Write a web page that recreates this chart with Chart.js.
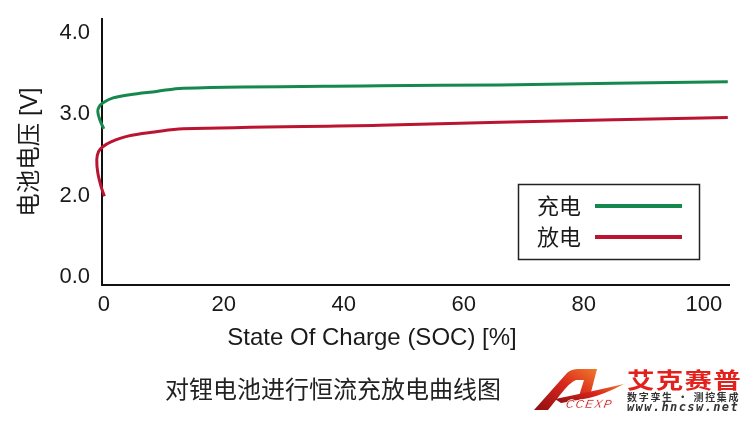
<!DOCTYPE html>
<html>
<head>
<meta charset="utf-8">
<script src="https://cdn.jsdelivr.net/npm/chart.js@4"></script>
<style>
  html, body { margin: 0; padding: 0; background: #fff; }
  #wrap { position: relative; width: 752px; height: 422px; overflow: hidden; }
  #chart { position: absolute; left: 0; top: 0; }
  #caption {
    position: absolute; left: 165px; top: 373px;
    font: 24px "Noto Sans CJK SC", sans-serif; color: #222; line-height: 30px;
    white-space: nowrap;
  }
  #logo { position: absolute; left: 533px; top: 362px; }
  .brand { position: absolute; left: 627px; white-space: nowrap; }
  #brand1 {
    top: 365px; font: bold 22px "Noto Sans CJK SC", sans-serif; color: #e3201b;
    letter-spacing: 1px; line-height: 26px; transform: scaleX(1.25); transform-origin: left top;
  }
  #brand2 { top: 391px; font: bold 10px "Noto Sans CJK SC", sans-serif; color: #333; letter-spacing: 1.7px; line-height: 12px; }
  #brand3 { top: 401px; font: bold italic 12px "DejaVu Sans Mono", monospace; color: #333; letter-spacing: 1.4px; line-height: 12px; }
</style>
</head>
<body>
<div id="wrap">
  <canvas id="chart" width="752" height="422"></canvas>
  <div id="caption">对锂电池进行恒流充放电曲线图</div>
  <svg id="logo" width="92" height="52" viewBox="0 0 92 52">
    <defs>
      <linearGradient id="lg" x1="0" y1="1" x2="1" y2="0">
        <stop offset="0" stop-color="#8e0f12"/>
        <stop offset="0.55" stop-color="#d8261c"/>
        <stop offset="1" stop-color="#f07a2a"/>
      </linearGradient>
    </defs>
    <path d="M1 48 L34 11 Q38 7 46 7 L64 7 L57 34 L46 34 L51 18 L43 18 Q37 20 27 33 L15 48 Z" fill="url(#lg)"/>
    <path d="M22 37 Q52 31 91 22 Q72 32 56 36 L28 41 Z" fill="url(#lg)"/>
    <text x="40" y="46" font-family="Liberation Sans" font-style="italic" font-weight="bold" font-size="12"
          fill="#c81e1e" stroke="#fff" stroke-width="0.6" transform="skewX(-10)" textLength="46">CCEXP</text>
  </svg>
  <div id="brand1" class="brand">艾克赛普</div>
  <div id="brand2" class="brand">数字孪生 · 测控集成</div>
  <div id="brand3" class="brand">www.hncsw.net</div>
</div>
<script>
// charge curve (SOC %, voltage V)
const socCharge  = [0, -0.67, -1.0, -0.78, -0.12, 1.55, 4.33, 8.78, 13.2, 46, 66, 104];
const voltCharge = [2.82, 2.93, 3.03, 3.09, 3.14, 3.20, 3.24, 3.28, 3.32, 3.35, 3.36, 3.40];

// discharge curve
const socDischarge  = [0.1, -0.45, -1.0, -1.17, -0.88, -0.17, 1.2, 4.0, 8.45, 13.2, 46, 66, 104];
const voltDischarge = [1.99, 2.11, 2.28, 2.44, 2.54, 2.60, 2.66, 2.73, 2.78, 2.82, 2.865, 2.90, 2.96];

// the y axis is broken: "0.0" sits one step below "2.0"
const yTickValues = [1, 2, 3, 4];
const yTickLabels = ['0.0', '2.0', '3.0', '4.0'];
const xTickValues = [0, 20, 40, 60, 80, 100];
const xTitle = 'State Of Charge (SOC) [%]';

const seriesNames = ['充电', '放电'];
const seriesColors = ['#15884e', '#bb1430'];

function toPoints(xs, ys) {
  return xs.map((x, i) => ({ x: x, y: ys[i] }));
}

const latin = '"Liberation Sans", Arial, sans-serif';
const cjk = '"Noto Sans CJK SC", sans-serif';

// legend box (text first, then a line sample) and the off-centre x title
const extras = {
  id: 'extras',
  afterDraw(chart) {
    const ctx = chart.ctx;
    ctx.save();
    ctx.fillStyle = '#1a1a1a';
    ctx.font = '24px ' + latin;
    ctx.textAlign = 'center';
    ctx.textBaseline = 'middle';
    ctx.fillText(xTitle, 372, 338);

    ctx.textAlign = 'left';
    ctx.strokeStyle = '#222';
    ctx.lineWidth = 1.5;
    ctx.strokeRect(518.5, 184.5, 181, 75);
    ctx.font = '22px ' + cjk;
    chart.data.datasets.forEach((ds, i) => {
      const y = 206 + i * 31;
      ctx.fillStyle = '#1a1a1a';
      ctx.fillText(ds.label, 537, y);
      ctx.strokeStyle = ds.borderColor;
      ctx.lineWidth = 4;
      ctx.beginPath();
      ctx.moveTo(595, y);
      ctx.lineTo(682, y);
      ctx.stroke();
    });
    ctx.restore();
  }
};

new Chart(document.getElementById('chart').getContext('2d'), {
  type: 'scatter',
  data: {
    datasets: [
      {
        label: seriesNames[0],
        data: toPoints(socCharge, voltCharge),
        borderColor: seriesColors[0],
        showLine: true,
        borderWidth: 3,
        pointRadius: 0,
        tension: 0.35,
        clip: false
      },
      {
        label: seriesNames[1],
        data: toPoints(socDischarge, voltDischarge),
        borderColor: seriesColors[1],
        showLine: true,
        borderWidth: 3,
        pointRadius: 0,
        tension: 0.35,
        clip: false
      }
    ]
  },
  options: {
    responsive: false,
    animation: false,
    layout: { padding: { left: 0, top: 19, right: 23, bottom: 67 } },
    plugins: { legend: { display: false }, tooltip: { enabled: false } },
    scales: {
      x: {
        type: 'linear',
        min: -0.3,
        max: 104.2,
        afterBuildTicks: s => { s.ticks = xTickValues.map(v => ({ value: v })); },
        afterFit: s => { s.height = 70; s.paddingLeft = 0; s.paddingRight = 0; },
        grid: { display: false, drawTicks: false },
        border: { display: true, color: '#111', width: 2 },
        ticks: { padding: 7, color: '#1a1a1a', font: { family: latin, size: 22 }, maxRotation: 0 }
      },
      y: {
        type: 'linear',
        min: 0.9,
        max: 4.17,
        afterBuildTicks: s => { s.ticks = yTickValues.map(v => ({ value: v })); },
        afterFit: s => { s.width = 102; s.paddingTop = 0; s.paddingBottom = 0; },
        grid: { display: false, drawTicks: false },
        border: { display: true, color: '#111', width: 2 },
        ticks: {
          padding: 12,
          color: '#1a1a1a',
          font: { family: latin, size: 22 },
          callback: v => yTickLabels[yTickValues.indexOf(v)]
        },
        title: {
          display: true,
          text: '电池电压 [V]',
          color: '#1a1a1a',
          font: { family: latin + ', ' + cjk, size: 23.5 },
          padding: { top: 16, bottom: 0 }
        }
      }
    }
  },
  plugins: [extras]
});
</script>
</body>
</html>
